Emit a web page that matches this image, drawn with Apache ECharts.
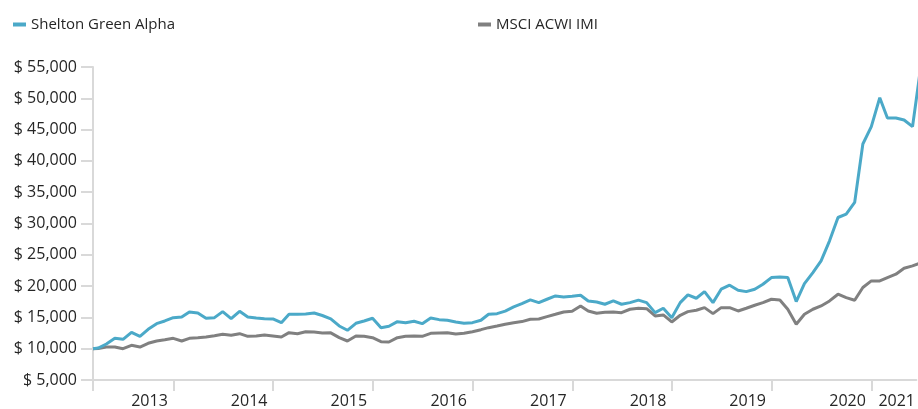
<!DOCTYPE html>
<html>
<head>
<meta charset="utf-8">
<script src="https://cdn.jsdelivr.net/npm/echarts@6/dist/echarts.min.js"></script>
<style>
html,body{margin:0;padding:0;background:#fff;}
#chart{width:918px;height:409px;}
</style>
</head>
<body>
<div id="chart"></div>
<script>
// Dates: inception, then month ends
const dates = [
  '2013-03-12',
  '2013-03-31','2013-04-30','2013-05-31','2013-06-30','2013-07-31','2013-08-31','2013-09-30','2013-10-31','2013-11-30','2013-12-31',
  '2014-01-31','2014-02-28','2014-03-31','2014-04-30','2014-05-31','2014-06-30','2014-07-31','2014-08-31','2014-09-30','2014-10-31','2014-11-30','2014-12-31',
  '2015-01-31','2015-02-28','2015-03-31','2015-04-30','2015-05-31','2015-06-30','2015-07-31','2015-08-31','2015-09-30','2015-10-31','2015-11-30','2015-12-31',
  '2016-01-31','2016-02-29','2016-03-31','2016-04-30','2016-05-31','2016-06-30','2016-07-31','2016-08-31','2016-09-30','2016-10-31','2016-11-30','2016-12-31',
  '2017-01-31','2017-02-28','2017-03-31','2017-04-30','2017-05-31','2017-06-30','2017-07-31','2017-08-31','2017-09-30','2017-10-31','2017-11-30','2017-12-31',
  '2018-01-31','2018-02-28','2018-03-31','2018-04-30','2018-05-31','2018-06-30','2018-07-31','2018-08-31','2018-09-30','2018-10-31','2018-11-30','2018-12-31',
  '2019-01-31','2019-02-28','2019-03-31','2019-04-30','2019-05-31','2019-06-30','2019-07-31','2019-08-31','2019-09-30','2019-10-31','2019-11-30','2019-12-31',
  '2020-01-31','2020-02-29','2020-03-31','2020-04-30','2020-05-31','2020-06-30','2020-07-31','2020-08-31','2020-09-30','2020-10-31','2020-11-30','2020-12-31',
  '2021-01-31','2021-02-28','2021-03-31','2021-04-30','2021-05-31','2021-06-30'
];

const sheltonGreenAlpha = [
  10000,
  10100, 10750, 11660, 11500, 12620, 11980, 13100, 14000, 14430, 14960,
  15070, 15870, 15710, 14860, 14960, 15920, 14800, 15980, 15070, 14910, 14800, 14750,
  14160, 15500, 15500, 15550, 15710, 15300, 14780, 13630, 12940, 14060, 14430, 14860,
  13360, 13580, 14320, 14160, 14380, 14000, 14910, 14640, 14540, 14270, 14060, 14160,
  14540, 15500, 15600, 16000, 16670, 17200, 17790, 17360, 17900, 18430, 18270, 18380,
  18540, 17630, 17470, 17100, 17630, 17100, 17360, 17760, 17360, 15760, 16460, 14960,
  17360, 18590, 18060, 19120, 17360, 19500, 20140, 19340, 19120, 19500, 20300, 21360,
  21470, 21360, 17530, 20400, 22160, 24030, 27230, 30960, 31500, 33360, 42700, 45470,
  50100, 46860, 46860, 46540, 45470, 55000
];

const msciAcwiImi = [
  10000,
  10030, 10270, 10270, 10000, 10540, 10270, 10860, 11230, 11440, 11660,
  11230, 11660, 11760, 11870, 12080, 12300, 12140, 12400, 11980, 12030, 12190, 12030,
  11870, 12560, 12400, 12720, 12670, 12510, 12530, 11770, 11230, 12030, 11980, 11760,
  11120, 11070, 11760, 11980, 12030, 11980, 12460, 12510, 12560, 12350, 12460, 12720,
  13040, 13360, 13630, 13900, 14160, 14330, 14700, 14750, 15120, 15500, 15870, 15980,
  16830, 16030, 15660, 15820, 15870, 15760, 16300, 16460, 16400, 15230, 15390, 14270,
  15340, 15920, 16140, 16560, 15600, 16560, 16560, 16030, 16460, 16940, 17360, 17900,
  17790, 16300, 13900, 15500, 16300, 16830, 17630, 18700, 18160, 17740, 19770, 20830,
  20830, 21360, 21900, 22860, 23230, 23700
];

const seriesNames = ['Shelton Green Alpha', 'MSCI ACWI IMI'];
const seriesColors = ['#4ba9c8', '#808080'];
const yearLabels = ['2013','2014','2015','2016','2017','2018','2019','2020','2021'];
const yearBoundaries = ['2014-01-01','2015-01-01','2016-01-01','2017-01-01','2018-01-01','2019-01-01','2020-01-01','2021-01-01'];
const axisStart = '2013-03-12';
const axisEnd = '2021-06-14';   // the visible window ends mid-June 2021

function ts(s){ const p = s.split('-').map(Number); return Date.UTC(p[0], p[1]-1, p[2]); }
const DAY = 86400000;
const tickValues = [ts(axisStart)].concat(yearBoundaries.map(ts));
// each year label sits just before the boundary closing that year; the last (partial) year sits after its start
const labelValues = yearLabels.map((y, i) => i < yearBoundaries.length
  ? ts(yearBoundaries[i]) - 88*DAY
  : ts(yearBoundaries[yearBoundaries.length-1]) + 92*DAY);
const labelText = {};
labelValues.forEach((v, i) => { labelText[v] = yearLabels[i]; });

const chart = echarts.init(document.getElementById('chart'), null, {renderer: 'canvas'});
const axisGray = '#d9d9d9';
const textColor = '#262626';
const fontFamily = '"Open Sans", "Noto Sans", sans-serif';

chart.setOption({
  animation: false,
  backgroundColor: '#fff',
  legend: [
    {
      data: [seriesNames[0]], left: 8, top: 12, icon: 'rect', itemWidth: 13, itemHeight: 4,
      textStyle: {fontFamily, fontSize: 15, color: textColor}
    },
    {
      data: [seriesNames[1]], left: 473, top: 12, icon: 'rect', itemWidth: 13, itemHeight: 4,
      textStyle: {fontFamily, fontSize: 15, color: textColor}
    }
  ],
  grid: {left: 93, right: 0, top: 67, bottom: 29, containLabel: false},
  xAxis: {
    type: 'value',
    min: ts(axisStart),
    max: ts(axisEnd),
    axisLine: {show: true, lineStyle: {color: axisGray, width: 2}},
    axisTick: {show: true, length: 11, lineStyle: {color: axisGray, width: 2}, customValues: tickValues},
    axisLabel: {
      show: true, margin: 13, fontFamily, fontSize: 16, color: textColor,
      customValues: labelValues,
      showMinLabel: true, showMaxLabel: true,
      formatter: (v) => labelText[v] || ''
    },
    splitLine: {show: false}
  },
  yAxis: {
    type: 'value',
    min: 5000, max: 55000, interval: 5000,
    axisLine: {show: true, lineStyle: {color: axisGray, width: 2}},
    axisTick: {show: true, length: 12, lineStyle: {color: axisGray, width: 2}},
    axisLabel: {
      margin: 16, fontFamily, fontSize: 16, color: textColor,
      formatter: (v) => '$ ' + v.toLocaleString('en-US')
    },
    splitLine: {show: false}
  },
  series: [
    {
      name: seriesNames[0], type: 'line', showSymbol: false, symbol: 'none', clip: true,
      color: seriesColors[0], lineStyle: {width: 3, color: seriesColors[0]},
      data: dates.map((d, i) => [ts(d), sheltonGreenAlpha[i]]), z: 3
    },
    {
      name: seriesNames[1], type: 'line', showSymbol: false, symbol: 'none', clip: true,
      color: seriesColors[1], lineStyle: {width: 3, color: seriesColors[1]},
      data: dates.map((d, i) => [ts(d), msciAcwiImi[i]]), z: 2
    }
  ]
});
</script>
</body>
</html>
